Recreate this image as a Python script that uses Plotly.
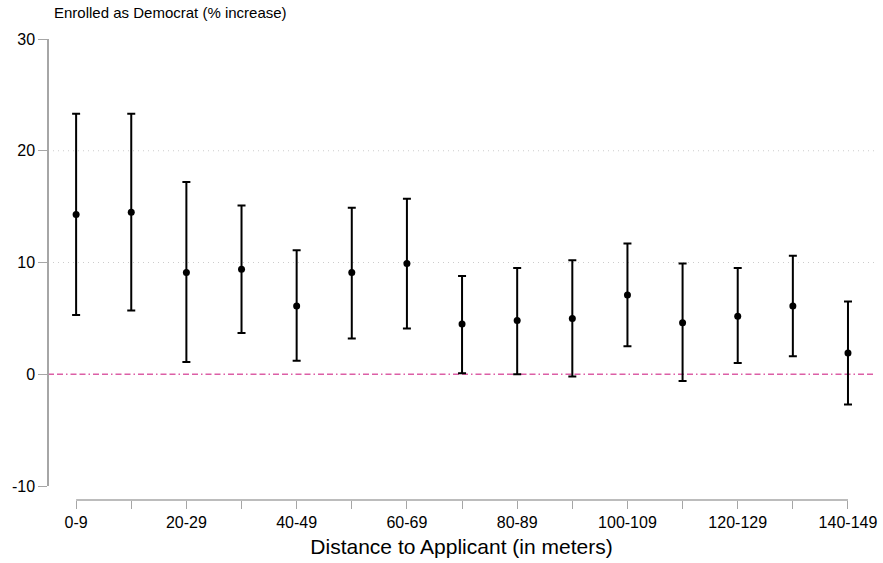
import plotly.graph_objects as go

# distance bins (in meters)
bins = ["0-9", "10-19", "20-29", "30-39", "40-49", "50-59", "60-69", "70-79",
        "80-89", "90-99", "100-109", "110-119", "120-129", "130-139", "140-149"]

# point estimates and 95% CI bounds (% increase)
estimate = [14.3, 14.5, 9.1, 9.4, 6.1, 9.1, 9.9, 4.5, 4.8, 5.0, 7.1, 4.6, 5.2, 6.1, 1.9]
ci_upper = [23.3, 23.3, 17.2, 15.1, 11.1, 14.9, 15.7, 8.8, 9.5, 10.2, 11.7, 9.9, 9.5, 10.6, 6.5]
ci_lower = [5.3, 5.7, 1.1, 3.7, 1.2, 3.2, 4.1, 0.1, 0.0, -0.2, 2.5, -0.6, 1.0, 1.6, -2.7]

y_ticks = [-10, 0, 10, 20, 30]
y_ticktext = ["-10", "0", "10", "20", "30"]
grid_at = [10, 20]

xpos = list(range(len(bins)))
err_plus = [u - e for u, e in zip(ci_upper, estimate)]
err_minus = [e - l for e, l in zip(estimate, ci_lower)]

axis_grey = "#a6a6a6"
font_family = "Liberation Sans, Arial, sans-serif"

fig = go.Figure()

fig.add_trace(go.Scatter(
    x=xpos, y=estimate, mode="markers",
    marker=dict(color="black", size=7),
    error_y=dict(type="data", symmetric=False, array=err_plus, arrayminus=err_minus,
                 color="black", thickness=2, width=4),
    showlegend=False, cliponaxis=False,
))

# light dotted gridlines (Stata style, only inner ticks)
for g in grid_at:
    fig.add_hline(y=g, line=dict(color="#cccccc", width=1, dash="1px,4px"), layer="below")

# reference line at zero
fig.add_hline(y=0, line=dict(color="#dc5fa6", width=1.3, dash="6px,3px,6px,3px,1.5px,3px"),
              layer="below")

# x axis line only spans the first to last category
fig.add_shape(type="line", xref="x", yref="paper", x0=xpos[0], x1=xpos[-1], y0=0, y1=0,
              line=dict(color=axis_grey, width=1.5))

h = 563 - 39 - 63
fig.update_layout(
    width=883, height=563,
    margin=dict(l=48, r=8, t=39, b=63, autoexpand=False),
    plot_bgcolor="white", paper_bgcolor="white",
    font=dict(family=font_family, color="black", size=16),
    xaxis=dict(
        range=[-0.51, 14.49], anchor="free", position=0, automargin=False,
        tickvals=xpos,
        ticktext=[b if i % 2 == 0 else "" for i, b in enumerate(bins)],
        ticks="outside", ticklen=8, tickcolor=axis_grey, tickwidth=1,
        showgrid=False, zeroline=False, showline=False,
        tickfont=dict(size=16),
        title=dict(text="Distance to Applicant (in meters)", font=dict(size=21), standoff=9),
    ),
    yaxis=dict(
        range=[-10, 30], domain=[14 / h, 1], anchor="free", position=0, automargin=False,
        tickvals=y_ticks, ticktext=y_ticktext,
        ticks="outside", ticklen=9, tickcolor=axis_grey, tickwidth=1,
        showline=True, linecolor=axis_grey, linewidth=1.5,
        showgrid=False, zeroline=False, tickfont=dict(size=16),
    ),
    annotations=[dict(
        text="Enrolled as Democrat (% increase)", xref="paper", yref="paper",
        x=4 / 827, y=1, yshift=27, xanchor="left", yanchor="middle",
        showarrow=False, font=dict(size=15),
    )],
)

# drop the browser's default page margin so the figure sits at the window corner
fig.write_html("out.html", config={"displayModeBar": False},
               post_script="document.body.style.margin = '0';")
